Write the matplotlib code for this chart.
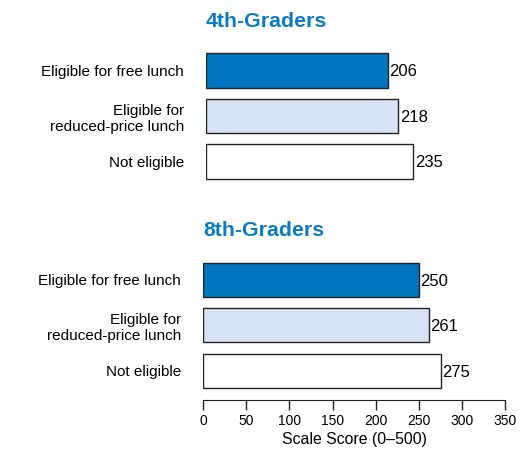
import matplotlib.pyplot as plt

plt.rcParams['font.family'] = ['Liberation Sans', 'DejaVu Sans']

# data
groups = ['4th-Graders', '8th-Graders']
categories = ['Eligible for free lunch', 'Eligible for\nreduced-price lunch', 'Not eligible']
scores_4th = [206, 218, 235]
scores_8th = [250, 261, 275]
bar_colors = ['#0075BF', '#D7E3F4', '#FFFFFF']
title_color = '#0A7BC4'

fig = plt.figure(figsize=(5.31, 4.5), dpi=100)
# the two panels in the source are scaled slightly differently
ax_top = fig.add_axes([206 / 531, 50 / 450, 309 / 531, 400 / 450])
ax = fig.add_axes([203 / 531, 50 / 450, 302.5 / 531, 400 / 450])
ax_top.patch.set_visible(False)
ax.patch.set_visible(False)

group_offset = 4.6
for g, (a, name, scores) in enumerate(zip([ax_top, ax], groups, [scores_4th, scores_8th])):
    ys = [g * group_offset + i for i in range(len(scores))]
    a.barh(ys, scores, height=0.75, color=bar_colors, edgecolor='#222222', linewidth=1.0)
    for y, v in zip(ys, scores):
        a.text(v + 1.5, y + 0.03, str(v), va='center', ha='left', fontsize=12)
    a.text(0, ys[0] - 1.08, name, ha='left', va='center',
           fontsize=15.3, fontweight='bold', color=title_color)
    a.set_ylim((400 - 70.5) / 45.5, -70.5 / 45.5)
    a.set_xlim(0, 350)
    a.set_yticks(ys)
    a.set_yticklabels(categories, fontsize=11)
    a.tick_params(axis='y', length=0, pad=16)
    for s in ['left', 'top', 'right']:
        a.spines[s].set_visible(False)

ax_top.spines['bottom'].set_visible(False)
ax_top.set_xticks([])

ax.set_xticks(range(0, 351, 50))
ax.tick_params(axis='x', length=7, width=1, labelsize=10, pad=3, color='#222222')
ax.set_xlabel('Scale Score (0–500)', fontsize=11.4, labelpad=3)
ax.spines['bottom'].set_color('#222222')

fig.savefig('out.png', dpi=100)
